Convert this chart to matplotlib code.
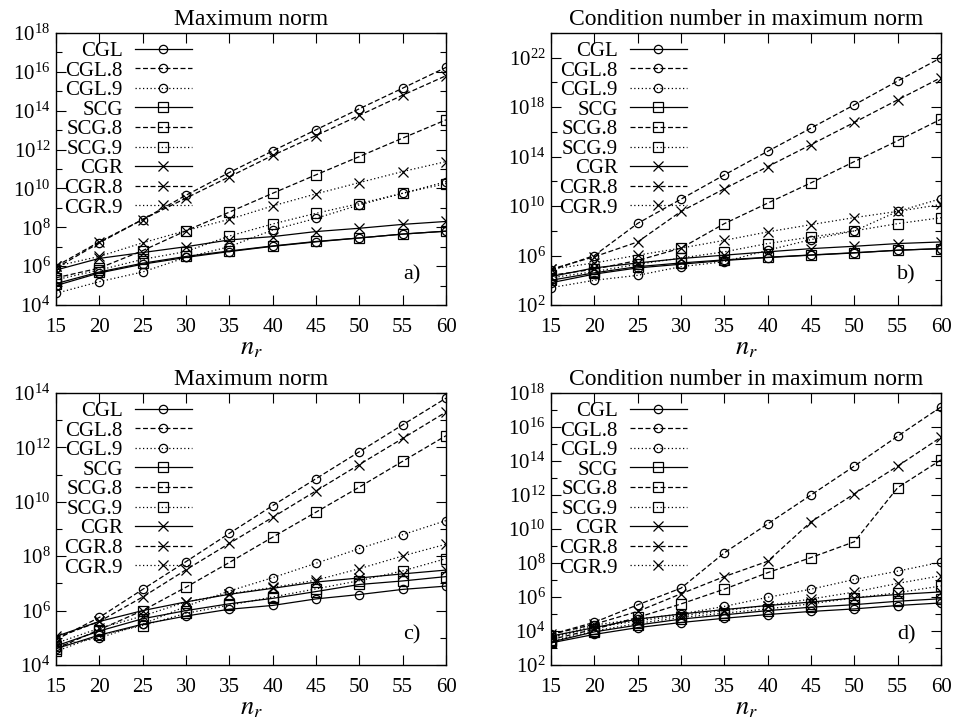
import numpy as np
import matplotlib
matplotlib.use('Agg')
import matplotlib.pyplot as plt
from matplotlib.ticker import FixedLocator, NullFormatter, LogFormatterMathtext

plt.rcParams['font.family'] = ['Liberation Serif', 'DejaVu Serif']
plt.rcParams['mathtext.fontset'] = 'stix'

nr = [15, 20, 25, 30, 35, 40, 45, 50, 55, 60]
names = ['CGL', 'CGL.8', 'CGL.9', 'SCG', 'SCG.8', 'SCG.9', 'CGR', 'CGR.8', 'CGR.9']

# log10 of the plotted values

# a) maximum norm
a_CGL = [5.0, 5.65, 6.1, 6.45, 6.75, 7.02, 7.25, 7.45, 7.65, 7.8]
a_CGL8 = [5.9, 7.2, 8.4, 9.65, 10.82, 11.93, 13.02, 14.1, 15.16, 16.23]
a_CGL9 = [4.6, 5.2, 5.7, 6.45, 7.0, 7.86, 8.46, 9.15, 9.75, 10.35]
a_SCG = [5.1, 5.7, 6.15, 6.5, 6.78, 7.04, 7.27, 7.45, 7.65, 7.8]
a_SCG8 = [5.4, 5.9, 6.8, 7.82, 8.78, 9.75, 10.7, 11.64, 12.59, 13.53]
a_SCG9 = [5.3, 5.8, 6.35, 6.75, 7.55, 8.17, 8.72, 9.22, 9.75, 10.25]
a_CGR = [5.8, 6.4, 6.7, 7.0, 7.35, 7.52, 7.78, 7.95, 8.15, 8.3]
a_CGR8 = [6.0, 7.25, 8.4, 9.5, 10.6, 11.7, 12.72, 13.76, 14.8, 15.8]
a_CGR9 = [6.0, 6.5, 7.2, 7.83, 8.41, 9.1, 9.72, 10.3, 10.87, 11.38]

# b) condition number, maximum norm
b_CGL = [3.8, 4.5, 5.0, 5.3, 5.6, 5.84, 6.03, 6.21, 6.43, 6.56]
b_CGL8 = [4.8, 6.0, 8.6, 10.56, 12.52, 14.43, 16.31, 18.19, 20.12, 22.0]
b_CGL9 = [3.4, 4.0, 4.4, 5.1, 5.5, 6.43, 7.29, 7.99, 9.57, 10.6]
b_SCG = [4.0, 4.6, 5.1, 5.4, 5.65, 5.86, 6.05, 6.23, 6.43, 6.56]
b_SCG8 = [4.4, 4.9, 5.6, 6.6, 8.58, 10.24, 11.88, 13.6, 15.29, 17.03]
b_SCG9 = [4.2, 4.7, 5.3, 5.8, 6.3, 6.97, 7.5, 8.0, 8.58, 9.06]
b_CGR = [4.3, 5.0, 5.4, 5.76, 6.03, 6.3, 6.56, 6.75, 6.97, 7.1]
b_CGR8 = [4.9, 5.9, 7.1, 9.57, 11.4, 13.19, 14.97, 16.77, 18.59, 20.39]
b_CGR9 = [4.9, 5.4, 6.03, 6.6, 7.23, 7.91, 8.5, 9.07, 9.57, 10.13]

# c) maximum norm
c_CGL = [4.6, 5.1, 5.5, 5.8, 6.05, 6.19, 6.43, 6.59, 6.78, 6.9]
c_CGL8 = [4.93, 5.75, 6.78, 7.8, 8.84, 9.86, 10.85, 11.84, 12.83, 13.81]
c_CGL9 = [4.7, 5.0, 5.5, 6.16, 6.72, 7.21, 7.74, 8.28, 8.79, 9.31]
c_SCG = [4.7, 5.25, 5.7, 6.0, 6.25, 6.45, 6.7, 6.96, 7.09, 7.25]
c_SCG8 = [4.6, 5.3, 6.0, 6.86, 7.77, 8.7, 9.62, 10.54, 11.49, 12.43]
c_SCG9 = [4.5, 5.1, 5.45, 5.9, 6.2, 6.5, 6.8, 7.1, 7.46, 7.91]
c_CGR = [5.05, 5.6, 6.0, 6.32, 6.6, 6.82, 7.05, 7.2, 7.35, 7.49]
c_CGR8 = [5.0, 5.6, 6.5, 7.5, 8.47, 9.43, 10.4, 11.37, 12.33, 13.3]
c_CGR9 = [4.8, 5.35, 5.8, 6.32, 6.62, 6.85, 7.12, 7.54, 8.01, 8.44]

# d) condition number, maximum norm
d_CGL = [3.3, 3.8, 4.2, 4.5, 4.75, 4.97, 5.15, 5.3, 5.5, 5.65]
d_CGL8 = [3.8, 4.51, 5.54, 6.52, 8.6, 10.3, 12.0, 13.7, 15.46, 17.18]
d_CGL9 = [3.6, 4.35, 4.7, 5.0, 5.45, 5.98, 6.46, 7.03, 7.52, 8.05]
d_SCG = [3.35, 3.95, 4.35, 4.7, 4.95, 5.2, 5.4, 5.55, 5.75, 5.9]
d_SCG8 = [3.5, 4.1, 4.8, 5.59, 6.46, 7.43, 8.32, 9.25, 12.43, 14.07]
d_SCG9 = [3.4, 4.0, 4.45, 4.8, 5.05, 5.3, 5.6, 5.95, 6.25, 6.65]
d_CGR = [3.7, 4.2, 4.7, 5.0, 5.26, 5.5, 5.7, 5.95, 6.15, 6.3]
d_CGR8 = [3.8, 4.4, 5.15, 6.19, 7.2, 8.1, 10.42, 12.07, 13.7, 15.4]
d_CGR9 = [3.6, 4.2, 4.6, 4.9, 5.2, 5.5, 5.88, 6.29, 6.8, 7.25]

panels = [
    ('Maximum norm', 'a)', [a_CGL, a_CGL8, a_CGL9, a_SCG, a_SCG8, a_SCG9, a_CGR, a_CGR8, a_CGR9],
     (4, 18), 2, [56, 33]),
    ('Condition number in maximum norm', 'b)', [b_CGL, b_CGL8, b_CGL9, b_SCG, b_SCG8, b_SCG9, b_CGR, b_CGR8, b_CGR9],
     (2, 24), 4, [551, 33]),
    ('Maximum norm', 'c)', [c_CGL, c_CGL8, c_CGL9, c_SCG, c_SCG8, c_SCG9, c_CGR, c_CGR8, c_CGR9],
     (4, 14), 2, [56, 393]),
    ('Condition number in maximum norm', 'd)', [d_CGL, d_CGL8, d_CGL9, d_SCG, d_SCG8, d_SCG9, d_CGR, d_CGR8, d_CGR9],
     (2, 18), 2, [551, 393]),
]

markers = {'CGL': 'o', 'SCG': 's', 'CGR': 'x'}
msizes = {'CGL': 6, 'SCG': 6.5, 'CGR': 6.5}
dashes = {'': None, '.8': (4, 2), '.9': (1, 2)}

W, H = 957, 727
fig = plt.figure(figsize=(W / 100, H / 100), dpi=100)

for title, tag, series, (ylo, yhi), step, (px, py) in panels:
    ax = fig.add_axes([px / W, (H - py - 272) / H, 390 / W, 272 / H])
    for name, vals in zip(names, series):
        fam, suf = name[:3], name[3:]
        line, = ax.plot(nr, 10.0 ** np.array(vals), color='black', lw=0.9,
                        marker=markers[fam], ms=msizes[fam], mfc='none',
                        mec='black', mew=0.9, label=name)
        if dashes[suf] is not None:
            line.set_dashes(dashes[suf])
    ax.set_yscale('log')
    ax.set_ylim(10.0 ** ylo, 10.0 ** yhi)
    ax.set_xlim(15, 60)
    ax.set_xticks(nr)
    major = [10.0 ** e for e in range(ylo, yhi + 1, step)]
    minor = [10.0 ** (e + step / 2) for e in range(ylo, yhi, step)]
    ax.yaxis.set_major_locator(FixedLocator(major))
    ax.yaxis.set_minor_locator(FixedLocator(minor))
    ax.yaxis.set_major_formatter(LogFormatterMathtext())
    ax.yaxis.set_minor_formatter(NullFormatter())
    ax.tick_params(which='both', direction='in', top=True, right=True, labelsize=15)
    ax.tick_params(which='major', length=7, width=0.8)
    ax.tick_params(which='minor', length=4, width=0.8)
    ax.tick_params(axis='x', pad=9)
    ax.tick_params(axis='y', pad=4)
    for s in ax.spines.values():
        s.set_linewidth(1.0)
    ax.set_title(title, fontsize=17, pad=6)
    ax.set_xlabel('$n_r$', fontsize=19, labelpad=1)
    ax.text(0.935, 0.11, tag, transform=ax.transAxes, ha='right', va='center', fontsize=16)
    ax.legend(loc='upper left', markerfirst=False, frameon=False, fontsize=15,
              handlelength=2.7, handletextpad=0.6, labelspacing=0.0,
              borderaxespad=0.2, borderpad=0.2, numpoints=1)

fig.savefig('out.png', dpi=100)
